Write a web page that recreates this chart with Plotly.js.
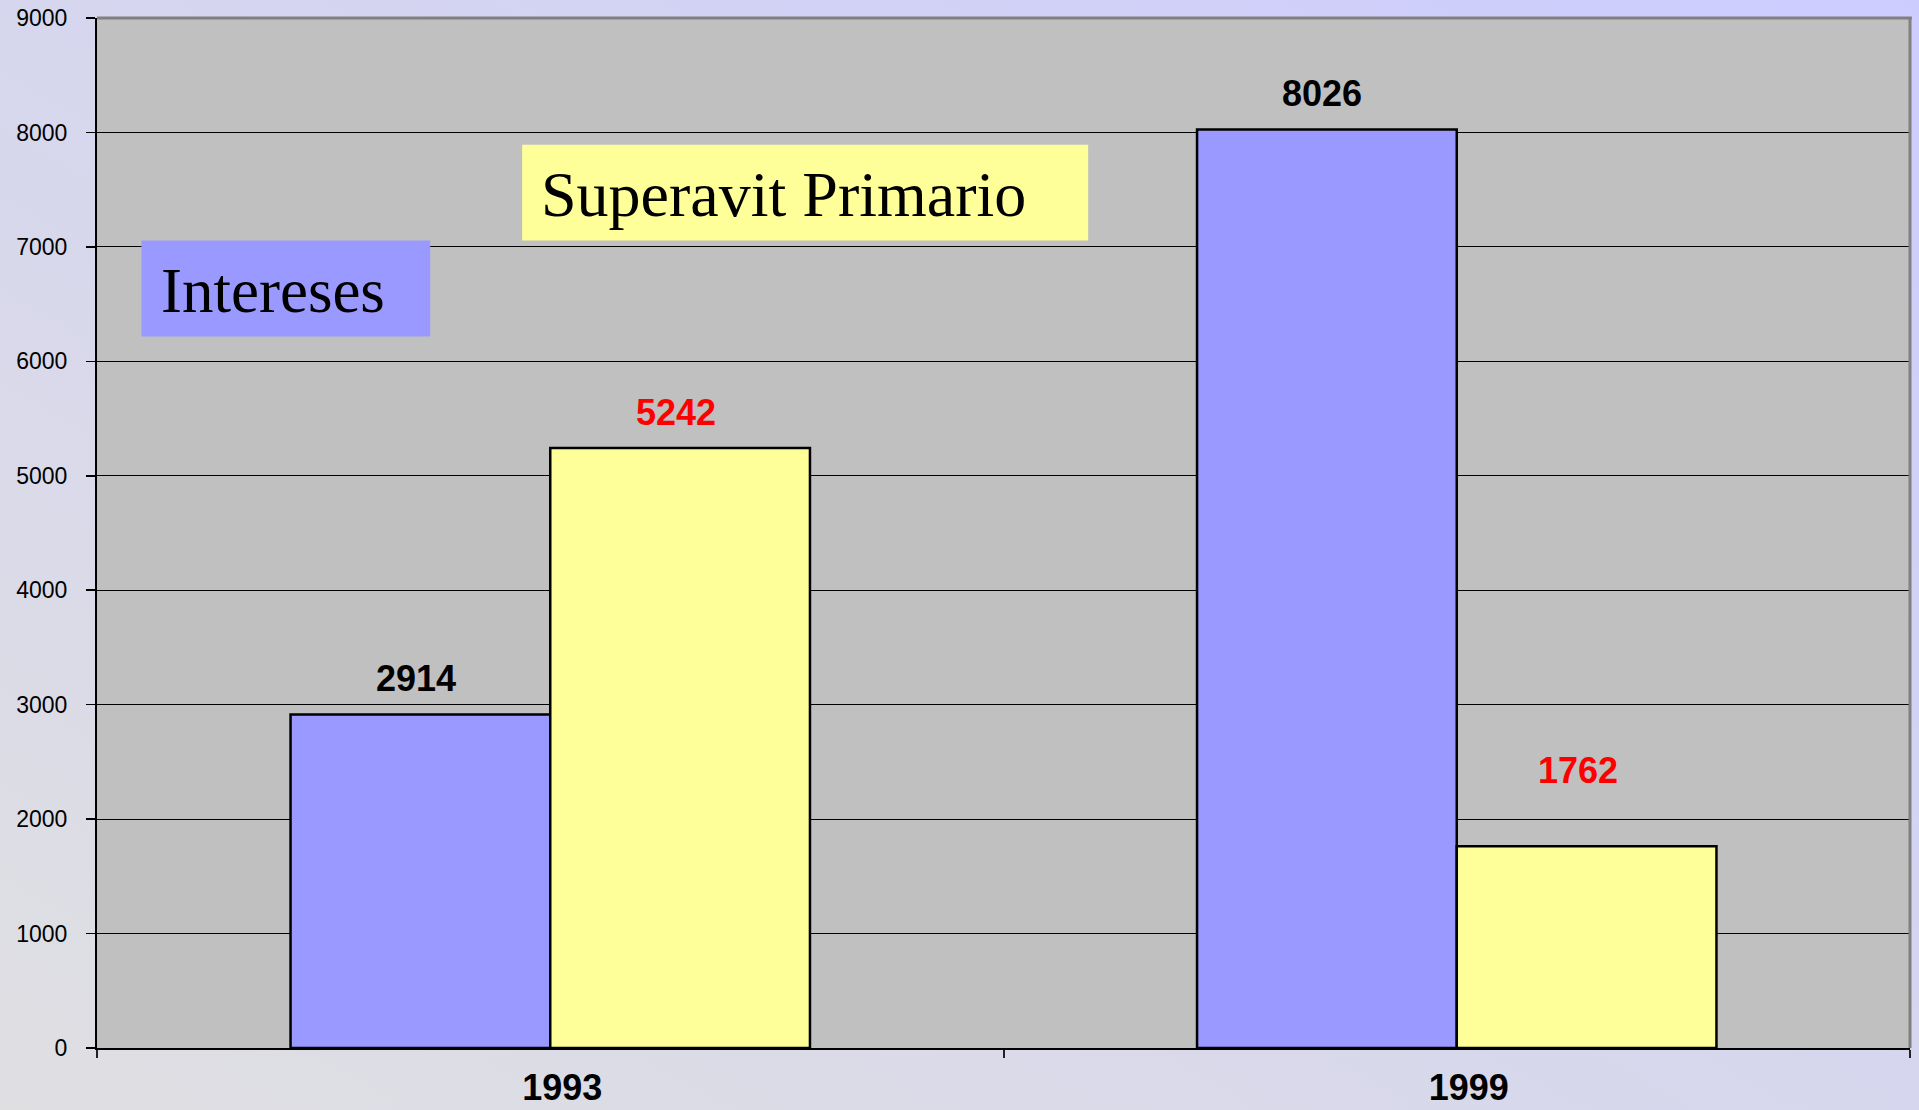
<!DOCTYPE html>
<html>
<head>
<meta charset="utf-8">
<script src="https://cdn.plot.ly/plotly-3.0.1.min.js"></script>
<style>
  html, body { margin: 0; padding: 0; }
  body {
    width: 1919px; height: 1110px; overflow: hidden;
    background: linear-gradient(to top right, #dfdfe2 0%, #d6d6ee 50%, #ccccff 100%);
  }
  #chart { width: 1919px; height: 1110px; }
</style>
</head>
<body>
<div id="chart"></div>
<script>
// ---- data ----
const years = ["1993", "1999"];
const intereses = [2914, 8026];
const superavit = [5242, 1762];
const seriesNames = ["Intereses", "Superavit Primario"];
const yTicks = [0, 1000, 2000, 3000, 4000, 5000, 6000, 7000, 8000, 9000];

// ---- styling ----
const BLUE = "#9999ff", YELLOW = "#ffff99";
const BARGAP = 0.427;
const half = (1 - BARGAP) / 4;   // offset of each bar centre from category centre

const traces = [
  { type: "bar", name: seriesNames[0], x: years, y: intereses,
    marker: { color: BLUE, line: { color: "#000", width: 2.5 } }, hoverinfo: "x+y" },
  { type: "bar", name: seriesNames[1], x: years, y: superavit,
    marker: { color: YELLOW, line: { color: "#000", width: 2.5 } }, hoverinfo: "x+y" }
];

// value labels, placed through the axes' scales
const labelStyle = [
  { color: "#000000", shifts: [[-4, 36], [-5, 36]] },
  { color: "#ff0000", shifts: [[-4, 36], [-9, 76]] }
];
const annotations = [];
[intereses, superavit].forEach((vals, s) => {
  vals.forEach((v, i) => {
    annotations.push({
      x: i + (s === 0 ? -half : half), y: v, xref: "x", yref: "y",
      text: String(v), showarrow: false,
      xanchor: "center", yanchor: "middle",
      xshift: labelStyle[s].shifts[i][0], yshift: labelStyle[s].shifts[i][1],
      font: { family: "Liberation Sans, Arial, sans-serif", size: 36, color: labelStyle[s].color, weight: "bold" }
    });
  });
});

// in-chart legend boxes
annotations.push({
  xref: "paper", yref: "paper", x: 0.2440, y: 0.8289, xanchor: "left", yanchor: "middle",
  text: seriesNames[1], showarrow: false,
  font: { family: "Liberation Serif, Times New Roman, serif", size: 64, color: "#000" }
});
annotations.push({
  xref: "paper", yref: "paper", x: 0.0344, y: 0.7347, xanchor: "left", yanchor: "middle",
  text: seriesNames[0], showarrow: false,
  font: { family: "Liberation Serif, Times New Roman, serif", size: 63, color: "#000" }
});

const shapes = [
  { type: "rect", xref: "paper", yref: "paper", x0: 0.2345, x1: 0.5467, y0: 0.784, y1: 0.8769,
    fillcolor: YELLOW, line: { width: 0 }, layer: "above" },
  { type: "rect", xref: "paper", yref: "paper", x0: 0.0245, x1: 0.1838, y0: 0.6907, y1: 0.784,
    fillcolor: BLUE, line: { width: 0 }, layer: "above" },
  // gray frame on top and right
  { type: "line", xref: "paper", yref: "paper", x0: 0, x1: 1.001, y0: 1, y1: 1,
    line: { color: "#808080", width: 3 } },
  { type: "line", xref: "paper", yref: "paper", x0: 1, x1: 1, y0: 0, y1: 1.001,
    line: { color: "#808080", width: 3 } }
];

const layout = {
  width: 1919, height: 1110,
  margin: { l: 97, r: 9, t: 18, b: 62 },
  paper_bgcolor: "rgba(0,0,0,0)",
  plot_bgcolor: "#c0c0c0",
  showlegend: false,
  barmode: "group",
  bargap: BARGAP,
  bargroupgap: 0,
  xaxis: {
    type: "category", range: [-0.5, 1.5], fixedrange: true,
    showline: true, linecolor: "#000", linewidth: 2,
    tickson: "boundaries", ticks: "outside", ticklen: 8, tickwidth: 2, tickcolor: "#222",
    showgrid: false, zeroline: false,
    ticklabelshift: 12, ticklabelstandoff: 7,
    tickfont: { family: "Liberation Sans, Arial, sans-serif", size: 36, color: "#000", weight: "bold" }
  },
  yaxis: {
    range: [0, 9000], tickvals: yTicks, ticktext: yTicks.map(String), fixedrange: true,
    showline: true, linecolor: "#000", linewidth: 2,
    ticks: "outside", ticklen: 9, tickwidth: 1.5, tickcolor: "#000",
    showgrid: true, gridcolor: "#000", gridwidth: 1, zeroline: false,
    ticklabelstandoff: 14,
    tickfont: { family: "Liberation Sans, Arial, sans-serif", size: 23, color: "#000" }
  },
  annotations: annotations,
  shapes: shapes
};

Plotly.newPlot("chart", traces, layout, { displayModeBar: false, staticPlot: true });
</script>
</body>
</html>
